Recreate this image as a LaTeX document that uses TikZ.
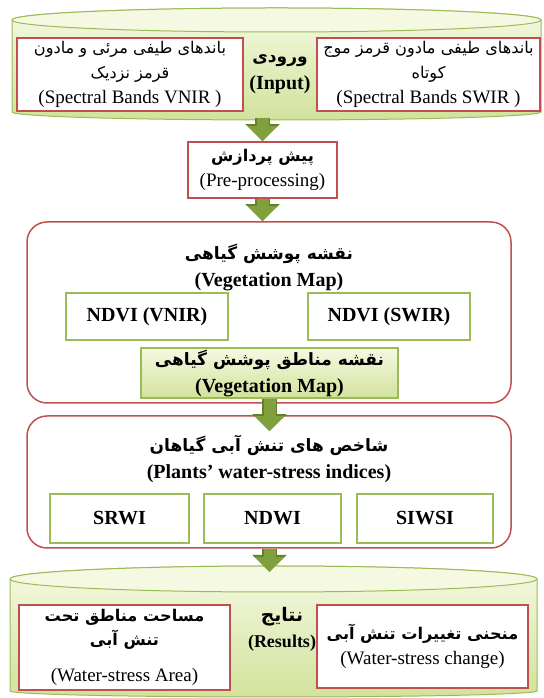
\documentclass[tikz,border=0pt]{standalone}
\usepackage{fontspec}
\setmainfont{Liberation Serif}
\newfontfamily\farsifont[Script=Arabic, Scale=0.85]{DejaVu Sans}
\usetikzlibrary{arrows.meta, calc}
\TeXXeTstate=1
\definecolor{boxred}{RGB}{192,80,77}
\definecolor{boxgreen}{RGB}{155,187,89}
\definecolor{arrowgreen}{RGB}{128,160,62}
\definecolor{arrowdark}{RGB}{100,128,46}
\definecolor{cyllight}{RGB}{245,249,226}
\definecolor{cyldark}{RGB}{210,226,156}
\newcommand{\fatxt}[1]{{\farsifont\beginR #1\endR}}

\begin{document}
\begin{tikzpicture}[x=1pt, y=1pt,
    every node/.style={font=\fontsize{19}{25}\selectfont},
    redbox/.style={draw=boxred, line width=1.5pt, fill=white, inner sep=0pt, align=center},
    greenbox/.style={draw=boxgreen, line width=1.5pt, fill=white, inner sep=0pt, align=center,
        font=\fontsize{20}{25}\selectfont\bfseries},
    roundbox/.style={draw=boxred, line width=1.5pt, rounded corners=20pt, fill=white, inner sep=0pt},
    title/.style={align=center, font=\fontsize{20}{27}\selectfont\bfseries},
    canfill/.style={top color=cyllight, bottom color=cyldark, draw=boxgreen, line width=1pt},
    flow/.style={preaction={draw=arrowdark, line width=15pt, -{Triangle[width=33pt, length=17pt]}},
        draw=arrowgreen, line width=12pt, -{Triangle[width=29pt, length=15pt]}}]
    \useasboundingbox (0,0) rectangle (543,698);

    % Input cylinder
    \shade[canfill] (12,678) -- (12,586) arc[start angle=180, end angle=360, x radius=264.5, y radius=8]
        -- (541,678) arc[start angle=0, end angle=180, x radius=264.5, y radius=12] -- cycle;
    \filldraw[fill=cyllight, draw=boxgreen, line width=1pt] (276.5,678) ellipse[x radius=264.5, y radius=12];
    \coordinate (inpbot) at (276.5,580);

    \node[redbox, minimum width=226pt, minimum height=73pt] (vnir) at (130,623.5)
        {\fatxt{باندهای طیفی مرئی و مادون}\\ \fatxt{قرمز نزدیک}\\ (Spectral Bands VNIR )};
    \node[redbox, minimum width=223pt, minimum height=73pt] (swir) at (428.5,623.5)
        {\fatxt{باندهای طیفی مادون قرمز موج}\\ \fatxt{کوتاه}\\ (Spectral Bands SWIR )};
    \node[title] (inp) at (280,624) {\fatxt{ورودی}\\ (Input)};

    % Pre-processing
    \node[redbox, minimum width=149pt, minimum height=56pt] (pre) at (262.5,528)
        {\textbf{\fatxt{پیش پردازش}}\\ (Pre-processing)};

    % Vegetation map
    \node[roundbox, minimum width=484pt, minimum height=181pt] (veg) at (269,385.5) {};
    \node[title] (vegtitle) at (269,431) {\fatxt{نقشه پوشش گیاهی}\\ (Vegetation Map)};
    \node[greenbox, minimum width=162pt, minimum height=47pt] (ndvia) at (147,381.5) {NDVI (VNIR)};
    \node[greenbox, minimum width=162pt, minimum height=47pt] (ndvib) at (389,381.5) {NDVI (SWIR)};
    \node[greenbox, top color=cyllight, bottom color=cyldark, minimum width=257pt, minimum height=50pt,
        font=\fontsize{20}{27}\selectfont\bfseries] (vegmap) at (269.5,325)
        {\fatxt{نقشه مناطق پوشش گیاهی}\\ (Vegetation Map)};

    % Water-stress indices
    \node[roundbox, minimum width=484pt, minimum height=132pt] (stress) at (269,216) {};
    \node[title] (stresstitle) at (269,238.5) {\fatxt{شاخص های تنش آبی گیاهان}\\ (Plants’ water-stress indices)};
    \node[greenbox, minimum width=139pt, minimum height=49pt] (srwi) at (119.5,179.5) {SRWI};
    \node[greenbox, minimum width=137pt, minimum height=49pt] (ndwi) at (272.5,179.5) {NDWI};
    \node[greenbox, minimum width=136pt, minimum height=49pt] (siwsi) at (425,179.5) {SIWSI};

    % Results cylinder
    \shade[canfill] (10,119) -- (10,7) arc[start angle=180, end angle=360, x radius=263.5, y radius=6]
        -- (537,119) arc[start angle=0, end angle=180, x radius=263.5, y radius=13] -- cycle;
    \filldraw[fill=cyllight, draw=boxgreen, line width=1pt] (273.5,119) ellipse[x radius=263.5, y radius=13];
    \coordinate (restop) at (273.5,126);

    \node[redbox, minimum width=211pt, minimum height=85pt, font=\fontsize{19}{24}\selectfont] (area) at (124.5,50.5)
        {\textbf{\fatxt{مساحت مناطق تحت}}\\ \textbf{\fatxt{تنش آبی}}\\[12pt] (Water-stress Area)};
    \node[redbox, minimum width=211pt, minimum height=83pt] (change) at (422.5,51.5)
        {\textbf{\fatxt{منحنی تغییرات تنش آبی}}\\ (Water-stress change)};
    \node[title, font=\fontsize{18}{26}\selectfont\bfseries] (res) at (282,68.5)
        {{\fontsize{22}{26}\selectfont\fatxt{نتایج}}\\ (Results)};

    % Arrows
    \draw[flow] (pre.north |- inpbot) -- (pre.north);
    \draw[flow] (pre.south) -- (pre.south |- veg.north);
    \draw[flow] (vegmap.south) -- ([yshift=-16pt]vegmap.south |- stress.north);
    \draw[flow] (stress.south -| vegmap.south) -- (vegmap.south |- restop);
\end{tikzpicture}
\end{document}
